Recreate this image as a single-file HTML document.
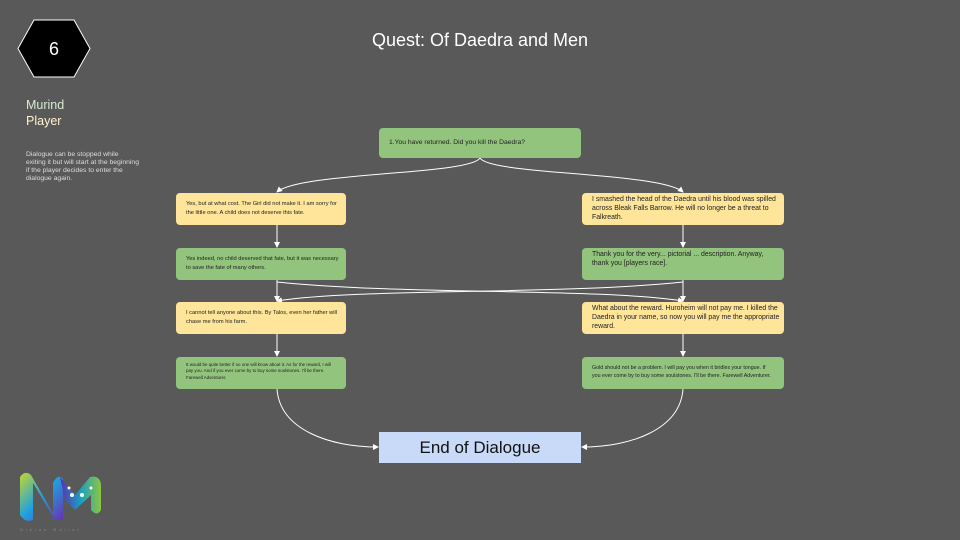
<!DOCTYPE html>
<html><head><meta charset="utf-8"><style>
body{margin:0;width:960px;height:540px;background:#595959;position:relative;overflow:hidden;font-family:"Liberation Sans",sans-serif}
.b{position:absolute;border-radius:4px;box-sizing:border-box;padding:7px 4px 0 10px;font-size:5.7px;line-height:8.5px;color:#222;white-space:nowrap}
.r{font-size:6.9px;line-height:9px;padding-top:2px}
.y{background:#ffe599}.g{background:#93c47d}
</style></head><body>
<svg width="960" height="540" style="position:absolute;left:0;top:0">
<defs><marker id="a" markerWidth="6" markerHeight="6" refX="5" refY="3" orient="auto"><path d="M0,0L6,3L0,6z" fill="#fff"/></marker></defs>
<polygon points="34,20 74,20 90,48.5 74,77 34,77 18,48.5" fill="#000" stroke="#fff" stroke-width="1"/>
<g fill="none" stroke="#fff" stroke-width="1">
<path d="M480,158 C470,175 300,172 277,192" marker-end="url(#a)"/>
<path d="M480,158 C490,175 660,172 683,192" marker-end="url(#a)"/>
<path d="M277,225 V247" marker-end="url(#a)"/>
<path d="M683,225 V247" marker-end="url(#a)"/>
<path d="M277,280 V301" marker-end="url(#a)"/>
<path d="M683,280 V301" marker-end="url(#a)"/>
<path d="M277,282 C400,295 600,288 683,301" marker-end="url(#a)"/>
<path d="M683,282 C560,295 360,288 277,301" marker-end="url(#a)"/>
<path d="M277,334 V356" marker-end="url(#a)"/>
<path d="M683,334 V356" marker-end="url(#a)"/>
<path d="M277,389 C280,430 330,447 378,447" marker-end="url(#a)"/>
<path d="M683,389 C680,430 630,447 582,447" marker-end="url(#a)"/>
</g>
<text x="54" y="55" fill="#fff" font-size="18" text-anchor="middle" font-family="Liberation Sans">6</text>
</svg>
<div style="position:absolute;left:0;top:30px;width:960px;text-align:center;color:#fff;font-size:18px">Quest: Of Daedra and Men</div>
<div style="position:absolute;left:26px;top:97px;font-size:12.5px;line-height:16px;color:#d9ead3">Murind<br><span style="color:#fff2cc">Player</span></div>
<div style="position:absolute;left:26px;top:151px;font-size:6.8px;line-height:8px;color:#ddd;white-space:nowrap">Dialogue can be stopped while<br>exiting it but will start at the beginning<br>if the player decides to enter the<br>dialogue again.</div>
<div class="b g" style="left:379px;top:128px;width:202px;height:30px;padding-top:11px;font-size:6.75px">1.You have returned. Did you kill the Daedra?</div>
<div class="b y" style="left:176px;top:193px;width:170px;height:32px">Yes, but at what cost. The Girl did not make it. I am sorry for<br>the little one. A child does not deserve this fate.</div>
<div class="b y r" style="left:582px;top:193px;width:202px;height:32px">I smashed the head of the Daedra until his blood was spilled<br>across Bleak Falls Barrow. He will no longer be a threat to<br>Falkreath.</div>
<div class="b g" style="left:176px;top:248px;width:170px;height:32px">Yes indeed, no child deserved that fate, but it was necessary<br>to save the fate of many others.</div>
<div class="b g r" style="left:582px;top:248px;width:202px;height:32px">Thank you for the very... pictorial ... description. Anyway,<br>thank you [players race].</div>
<div class="b y" style="left:176px;top:302px;width:170px;height:32px">I cannot tell anyone about this. By Talos, even her father will<br>chase me from his farm.</div>
<div class="b y r" style="left:582px;top:302px;width:202px;height:32px">What about the reward. Huroheim will not pay me. I killed the<br>Daedra in your name, so now you will pay me the appropriate<br>reward.</div>
<div class="b g" style="left:176px;top:357px;width:170px;height:32px;padding-top:5px;font-size:4.45px;line-height:6.3px">It would be quite better if no one will know about it. As for the reward, I will<br>pay you. And if you ever come by to buy some soulstones. I'll be there.<br>Farewell Adventurer.</div>
<div class="b g" style="left:582px;top:357px;width:202px;height:32px;padding-top:8px;font-size:5.3px;line-height:7.5px">Gold should not be a problem. I will pay you when it bridles your tongue. If<br>you ever come by to buy some soulstones. I'll be there. Farewell Adventurer.</div>
<div style="position:absolute;left:379px;top:432px;width:202px;height:31px;background:#c9daf8;color:#111;font-size:17px;text-align:center;line-height:31px">End of Dialogue</div>
<svg width="90" height="70" style="position:absolute;left:15px;top:465px">
<defs><linearGradient id="l" x1="0" y1="0" x2="1" y2="1"><stop offset="0" stop-color="#c7d82a"/><stop offset=".5" stop-color="#1fa0e0"/><stop offset="1" stop-color="#6a2fb0"/></linearGradient>
<linearGradient id="r" x1="0" y1="0" x2="1" y2="0"><stop offset="0" stop-color="#5a2fb0"/><stop offset=".5" stop-color="#1a9fc0"/><stop offset="1" stop-color="#8cc63f"/></linearGradient></defs>
<path d="M5,12 Q10,5 16,10 L38,48 L38,18 Q43,8 48,14 L48,55 L40,55 L18,18 L18,55 Q10,58 5,50 Z" fill="url(#l)"/>
<path d="M45,12 L60,30 L75,12 Q85,10 86,20 L86,45 Q82,52 76,45 L76,30 L60,45 L50,35 Z" fill="url(#r)"/>
<circle cx="57" cy="30" r="2" fill="#fff"/><circle cx="67" cy="30" r="2" fill="#fff"/><circle cx="54" cy="23" r="1.5" fill="#fff"/><circle cx="76" cy="23" r="1.5" fill="#fff"/>
<text x="5" y="66" font-size="4" fill="#888" letter-spacing="3">Niklas Möller</text>
</svg>
</body></html>
